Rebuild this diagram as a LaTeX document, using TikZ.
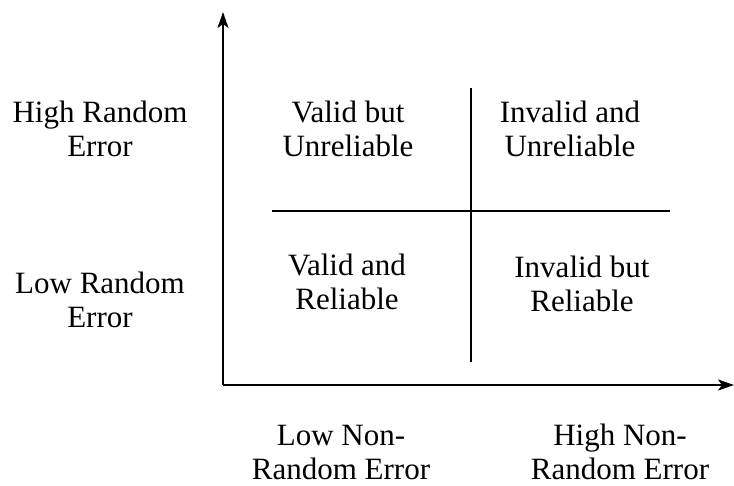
\documentclass[tikz,border=0pt]{standalone}
\usepackage{fontspec}
\setmainfont{Liberation Serif}
\usetikzlibrary{arrows.meta}
\begin{document}
\begin{tikzpicture}[x=1pt,y=-1pt,
  lbl/.style={align=center,font=\fontsize{31}{34}\selectfont,inner sep=0pt},
  axis/.style={line width=2pt,-{Stealth[length=16pt,width=11pt,inset=4pt]}},
  divider/.style={line width=1.6pt}]
\useasboundingbox (0,0) rectangle (734,485);
\coordinate (O) at (223,385);
\coordinate (ytop) at (223,12);
\coordinate (xend) at (734,385);
\draw[axis] (O) -- (ytop);
\draw[axis] (O) -- (xend);
\coordinate (hl) at (272,211);
\coordinate (hr) at (670,211);
\coordinate (vt) at (471,88);
\coordinate (vb) at (471,362);
\draw[divider] (hl) -- (hr);
\draw[divider] (vt) -- (vb);
\node[lbl] (hre) at (100,129) {High Random\\Error};
\node[lbl] (lre) at (100,300) {Low Random\\Error};
\node[lbl] (vu) at (348,129) {Valid but\\Unreliable};
\node[lbl] (iu) at (570,129) {Invalid and\\Unreliable};
\node[lbl] (vr) at (347,282) {Valid and\\Reliable};
\node[lbl] (ir) at (582,284) {Invalid but\\Reliable};
\node[lbl] (lnre) at (341,452) {Low Non-\\Random Error};
\node[lbl] (hnre) at (620,452) {High Non-\\Random Error};
\end{tikzpicture}
\end{document}
